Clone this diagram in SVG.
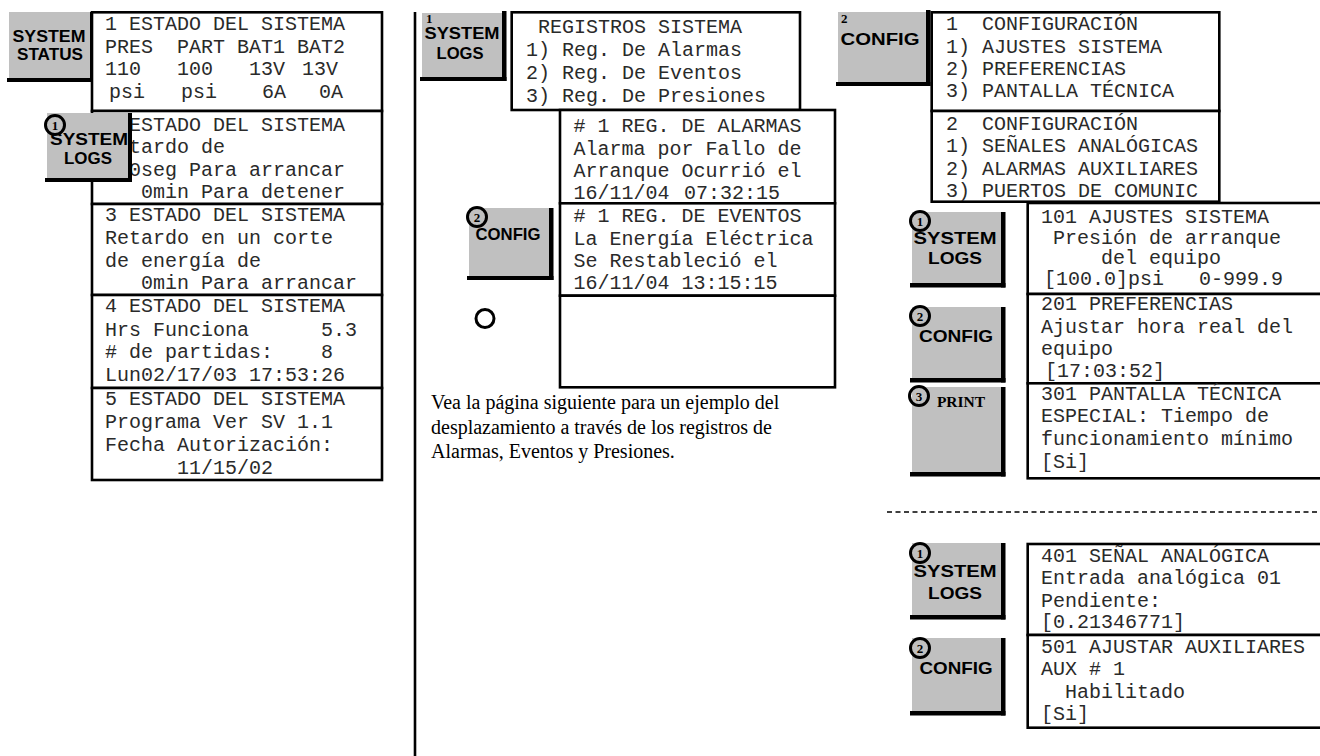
<svg xmlns="http://www.w3.org/2000/svg" width="1320" height="756" viewBox="0 0 1320 756">
<style>
.box{fill:#fff;stroke:#000;stroke-width:2.6}
.t{font-family:"Liberation Mono","Courier New",monospace;font-size:20px;fill:#2a2a2a}
.btn{fill:#c0c0c0}
.sh{fill:#000}
.bl{font-family:"Liberation Sans",Arial,sans-serif;font-weight:bold;font-size:17px;fill:#000;text-anchor:middle}
.num{font-family:"Liberation Serif","Times New Roman",serif;font-weight:bold;font-size:13px;fill:#000;text-anchor:middle}
.n0{font-family:"Liberation Serif","Times New Roman",serif;font-weight:bold;font-size:13px;fill:#000}
.ring{fill:none;stroke:#000;stroke-width:3}
.para{font-family:"Liberation Serif","Times New Roman",serif;font-size:20px;fill:#000}
.sep{stroke:#000;stroke-width:2.6;fill:none}
.dash{stroke:#000;stroke-width:1.5;stroke-dasharray:5 3.5;fill:none}
</style>
<rect width="1320" height="756" fill="#fff"/>

<g id="separators">
<line class="sep" x1="415" y1="12" x2="415" y2="756"/>
<line class="dash" x1="887" y1="512" x2="1320" y2="512"/>
</g>

<!-- LEFT COLUMN -->
<g id="btn-system-status">
<rect class="sh" x="90" y="12" width="4.5" height="70"/>
<rect class="sh" x="7" y="78" width="87" height="4"/>
<rect class="btn" x="9" y="12" width="81" height="66"/>
<text class="bl" x="49" y="42" textLength="73" lengthAdjust="spacingAndGlyphs">SYSTEM</text>
<text class="bl" x="50" y="60" textLength="66" lengthAdjust="spacingAndGlyphs">STATUS</text>
</g>

<g id="left-box1">
<rect class="box" x="92" y="12.3" width="290" height="98.7"/>
<text class="t" x="105" y="30">1 ESTADO DEL SISTEMA</text>
<text class="t" x="105" y="52.5">PRES</text>
<text class="t" x="177" y="52.5">PART BAT1 BAT2</text>
<text class="t" x="105" y="75">110</text>
<text class="t" x="177" y="75">100</text>
<text class="t" x="249" y="75">13V</text>
<text class="t" x="302" y="75">13V</text>
<text class="t" x="109" y="97.5">psi</text>
<text class="t" x="181" y="97.5">psi</text>
<text class="t" x="262" y="97.5">6A</text>
<text class="t" x="319" y="97.5">0A</text>
</g>
<g id="left-box2">
<rect class="box" x="92" y="111" width="290" height="93"/>
<text class="t" x="129" y="130.5">ESTADO DEL SISTEMA</text>
<text class="t" x="129" y="153">tardo de</text>
<text class="t" x="129" y="175.5">0seg Para arrancar</text>
<text class="t" x="141" y="198">0min Para detener</text>
</g>
<g id="left-box3">
<rect class="box" x="92" y="204" width="290" height="91"/>
<text class="t" x="105" y="221">3 ESTADO DEL SISTEMA</text>
<text class="t" x="105" y="244">Retardo en un corte</text>
<text class="t" x="105" y="266.5">de energía de</text>
<text class="t" x="141" y="289">0min Para arrancar</text>
</g>
<g id="left-box4">
<rect class="box" x="92" y="295" width="290" height="93"/>
<text class="t" x="105" y="312">4 ESTADO DEL SISTEMA</text>
<text class="t" x="105" y="335.5">Hrs Funciona</text>
<text class="t" x="321" y="335.5">5.3</text>
<text class="t" x="105" y="358"># de partidas:</text>
<text class="t" x="321" y="358">8</text>
<text class="t" x="105" y="381">Lun02/17/03 17:53:26</text>
</g>
<g id="left-box5">
<rect class="box" x="92" y="388" width="290" height="92"/>
<text class="t" x="105" y="405">5 ESTADO DEL SISTEMA</text>
<text class="t" x="105" y="428">Programa Ver SV 1.1</text>
<text class="t" x="105" y="451">Fecha Autorización:</text>
<text class="t" x="177" y="474">11/15/02</text>
</g>

<g id="btn-left-logs">
<rect class="sh" x="128" y="113" width="4" height="69"/>
<rect class="sh" x="45" y="178" width="87" height="4"/>
<rect class="btn" x="47" y="113" width="81" height="65"/>
<text class="bl" x="89" y="145" textLength="78" lengthAdjust="spacingAndGlyphs">SYSTEM</text>
<text class="bl" x="88" y="164" textLength="48" lengthAdjust="spacingAndGlyphs">LOGS</text>
<circle class="ring" cx="55" cy="125" r="9.5"/>
<text class="num" x="55" y="129.5">1</text>
</g>

<!-- MIDDLE COLUMN -->
<g id="btn-mid-logs">
<rect class="sh" x="502" y="11" width="4.5" height="70"/>
<rect class="sh" x="420" y="77" width="86.5" height="4"/>
<rect class="btn" x="422" y="13" width="80" height="64"/>
<text class="n0" x="426" y="23">1</text>
<text class="bl" x="462" y="39" textLength="75" lengthAdjust="spacingAndGlyphs">SYSTEM</text>
<text class="bl" x="460" y="59" textLength="47" lengthAdjust="spacingAndGlyphs">LOGS</text>
</g>

<g id="box-registros">
<rect class="box" x="511.7" y="12.3" width="288.3" height="97.7"/>
<text class="t" x="538" y="33">REGISTROS SISTEMA</text>
<text class="t" x="526" y="56">1) Reg. De Alarmas</text>
<text class="t" x="526" y="79">2) Reg. De Eventos</text>
<text class="t" x="526" y="101.5">3) Reg. De Presiones</text>
</g>
<g id="box-alarmas">
<rect class="box" x="560" y="110" width="275" height="93.3"/>
<text class="t" x="573.5" y="132"># 1 REG. DE ALARMAS</text>
<text class="t" x="573.5" y="154.5">Alarma por Fallo de</text>
<text class="t" x="573.5" y="177">Arranque Ocurrió el</text>
<text class="t" x="573.5" y="199">16/11/04</text>
<text class="t" x="684" y="199">07:32:15</text>
</g>
<g id="box-eventos">
<rect class="box" x="560" y="203.3" width="275" height="92.4"/>
<text class="t" x="573.5" y="222"># 1 REG. DE EVENTOS</text>
<text class="t" x="573.5" y="244.5">La Energía Eléctrica</text>
<text class="t" x="573.5" y="266.5">Se Restableció el</text>
<text class="t" x="573.5" y="289">16/11/04 13:15:15</text>
</g>
<g id="box-empty">
<rect class="box" x="560" y="295.7" width="275" height="91.6"/>
</g>

<g id="btn-mid-config">
<rect class="sh" x="549" y="208" width="4.5" height="72"/>
<rect class="sh" x="467" y="276" width="86.5" height="4"/>
<rect class="btn" x="469" y="208" width="80" height="68"/>
<text class="bl" x="508" y="240" textLength="65" lengthAdjust="spacingAndGlyphs">CONFIG</text>
<circle class="ring" cx="477" cy="217" r="9.5"/>
<text class="num" x="477" y="221.5">2</text>
</g>

<g id="ring-empty">
<circle class="ring" cx="485" cy="318.5" r="9"/>
</g>

<g id="note">
<text class="para" x="431" y="409">Vea la página siguiente para un ejemplo del</text>
<text class="para" x="431" y="433.5">desplazamiento a través de los registros de</text>
<text class="para" x="431" y="458">Alarmas, Eventos y Presiones.</text>
</g>

<!-- RIGHT COLUMN -->
<g id="btn-right-config">
<rect class="sh" x="926" y="10" width="4.5" height="76"/>
<rect class="sh" x="836" y="82" width="94.5" height="4"/>
<rect class="btn" x="838" y="12" width="88" height="70"/>
<text class="n0" x="841" y="23">2</text>
<text class="bl" x="880" y="45" textLength="79" lengthAdjust="spacingAndGlyphs">CONFIG</text>
</g>

<g id="box-config1">
<rect class="box" x="931.7" y="12.3" width="287.6" height="98.7"/>
<text class="t" x="946" y="30">1</text>
<text class="t" x="982" y="30">CONFIGURACIÓN</text>
<text class="t" x="946" y="53">1) AJUSTES SISTEMA</text>
<text class="t" x="946" y="75">2) PREFERENCIAS</text>
<text class="t" x="946" y="97">3) PANTALLA TÉCNICA</text>
</g>
<g id="box-config2">
<rect class="box" x="931.7" y="111" width="287.6" height="90.7"/>
<text class="t" x="946" y="130">2</text>
<text class="t" x="982" y="130">CONFIGURACIÓN</text>
<text class="t" x="946" y="152">1) SEÑALES ANALÓGICAS</text>
<text class="t" x="946" y="175">2) ALARMAS AUXILIARES</text>
<text class="t" x="946" y="197">3) PUERTOS DE COMUNIC</text>
</g>

<g id="box-101">
<rect class="box" x="1027.7" y="203" width="300" height="91"/>
<text class="t" x="1041" y="223">101 AJUSTES SISTEMA</text>
<text class="t" x="1053" y="243.5">Presión de arranque</text>
<text class="t" x="1101" y="264">del equipo</text>
<text class="t" x="1044" y="285">[100.0]psi</text>
<text class="t" x="1199" y="285">0-999.9</text>
</g>
<g id="box-201">
<rect class="box" x="1027.7" y="294" width="300" height="89.3"/>
<text class="t" x="1041" y="310">201 PREFERENCIAS</text>
<text class="t" x="1041" y="333">Ajustar hora real del</text>
<text class="t" x="1041" y="355">equipo</text>
<text class="t" x="1045" y="377">[17:03:52]</text>
</g>
<g id="box-301">
<rect class="box" x="1027.7" y="383.3" width="300" height="95"/>
<text class="t" x="1041" y="400">301 PANTALLA TÉCNICA</text>
<text class="t" x="1041" y="422">ESPECIAL: Tiempo de</text>
<text class="t" x="1041" y="445">funcionamiento mínimo</text>
<text class="t" x="1041" y="468">[Si]</text>
</g>
<g id="box-401">
<rect class="box" x="1027.7" y="544" width="300" height="91"/>
<text class="t" x="1041" y="561.7">401 SEÑAL ANALÓGICA</text>
<text class="t" x="1041" y="583.5">Entrada analógica 01</text>
<text class="t" x="1041" y="606.5">Pendiente:</text>
<text class="t" x="1041" y="628.3">[0.21346771]</text>
</g>
<g id="box-501">
<rect class="box" x="1027.7" y="635" width="300" height="92.7"/>
<text class="t" x="1041" y="653.3">501 AJUSTAR AUXILIARES</text>
<text class="t" x="1041" y="675">AUX # 1</text>
<text class="t" x="1065" y="698.3">Habilitado</text>
<text class="t" x="1041" y="720">[Si]</text>
</g>

<g id="btn-r-logs1">
<rect class="sh" x="1001" y="212" width="4.5" height="75.5"/>
<rect class="sh" x="910" y="283" width="95.5" height="4.5"/>
<rect class="btn" x="912" y="212" width="89" height="71"/>
<text class="bl" x="955" y="243.5" textLength="83" lengthAdjust="spacingAndGlyphs">SYSTEM</text>
<text class="bl" x="955" y="263.5" textLength="54" lengthAdjust="spacingAndGlyphs">LOGS</text>
<circle class="ring" cx="920" cy="221" r="9.5"/>
<text class="num" x="920" y="225.5">1</text>
</g>
<g id="btn-r-config2">
<rect class="sh" x="1001" y="307" width="4.5" height="75.5"/>
<rect class="sh" x="910" y="378" width="95.5" height="4.5"/>
<rect class="btn" x="912" y="307" width="89" height="71"/>
<text class="bl" x="956" y="342" textLength="74" lengthAdjust="spacingAndGlyphs">CONFIG</text>
<circle class="ring" cx="920" cy="316" r="9.5"/>
<text class="num" x="920" y="320.5">2</text>
</g>
<g id="btn-r-print3">
<rect class="sh" x="1001" y="387" width="4.5" height="89.5"/>
<rect class="sh" x="910" y="472" width="95.5" height="4.5"/>
<rect class="btn" x="912" y="387" width="89" height="85"/>
<text x="961" y="407" font-family="Liberation Serif, Times New Roman, serif" font-weight="bold" font-size="15.5" text-anchor="middle">PRINT</text>
<circle class="ring" cx="919" cy="396" r="9.5"/>
<text class="num" x="919" y="400.5">3</text>
</g>
<g id="btn-r-logs1b">
<rect class="sh" x="1001" y="543" width="4.5" height="76.5"/>
<rect class="sh" x="910" y="615" width="95.5" height="4.5"/>
<rect class="btn" x="912" y="543" width="89" height="72"/>
<text class="bl" x="955" y="577" textLength="83" lengthAdjust="spacingAndGlyphs">SYSTEM</text>
<text class="bl" x="955" y="598.5" textLength="54" lengthAdjust="spacingAndGlyphs">LOGS</text>
<circle class="ring" cx="920" cy="553" r="9.5"/>
<text class="num" x="920" y="557.5">1</text>
</g>
<g id="btn-r-config2b">
<rect class="sh" x="1001" y="638" width="4.5" height="77.5"/>
<rect class="sh" x="910" y="711" width="95.5" height="4.5"/>
<rect class="btn" x="912" y="638" width="89" height="73"/>
<text class="bl" x="956" y="673.5" textLength="73" lengthAdjust="spacingAndGlyphs">CONFIG</text>
<circle class="ring" cx="920" cy="648" r="9.5"/>
<text class="num" x="920" y="652.5">2</text>
</g>
</svg>
